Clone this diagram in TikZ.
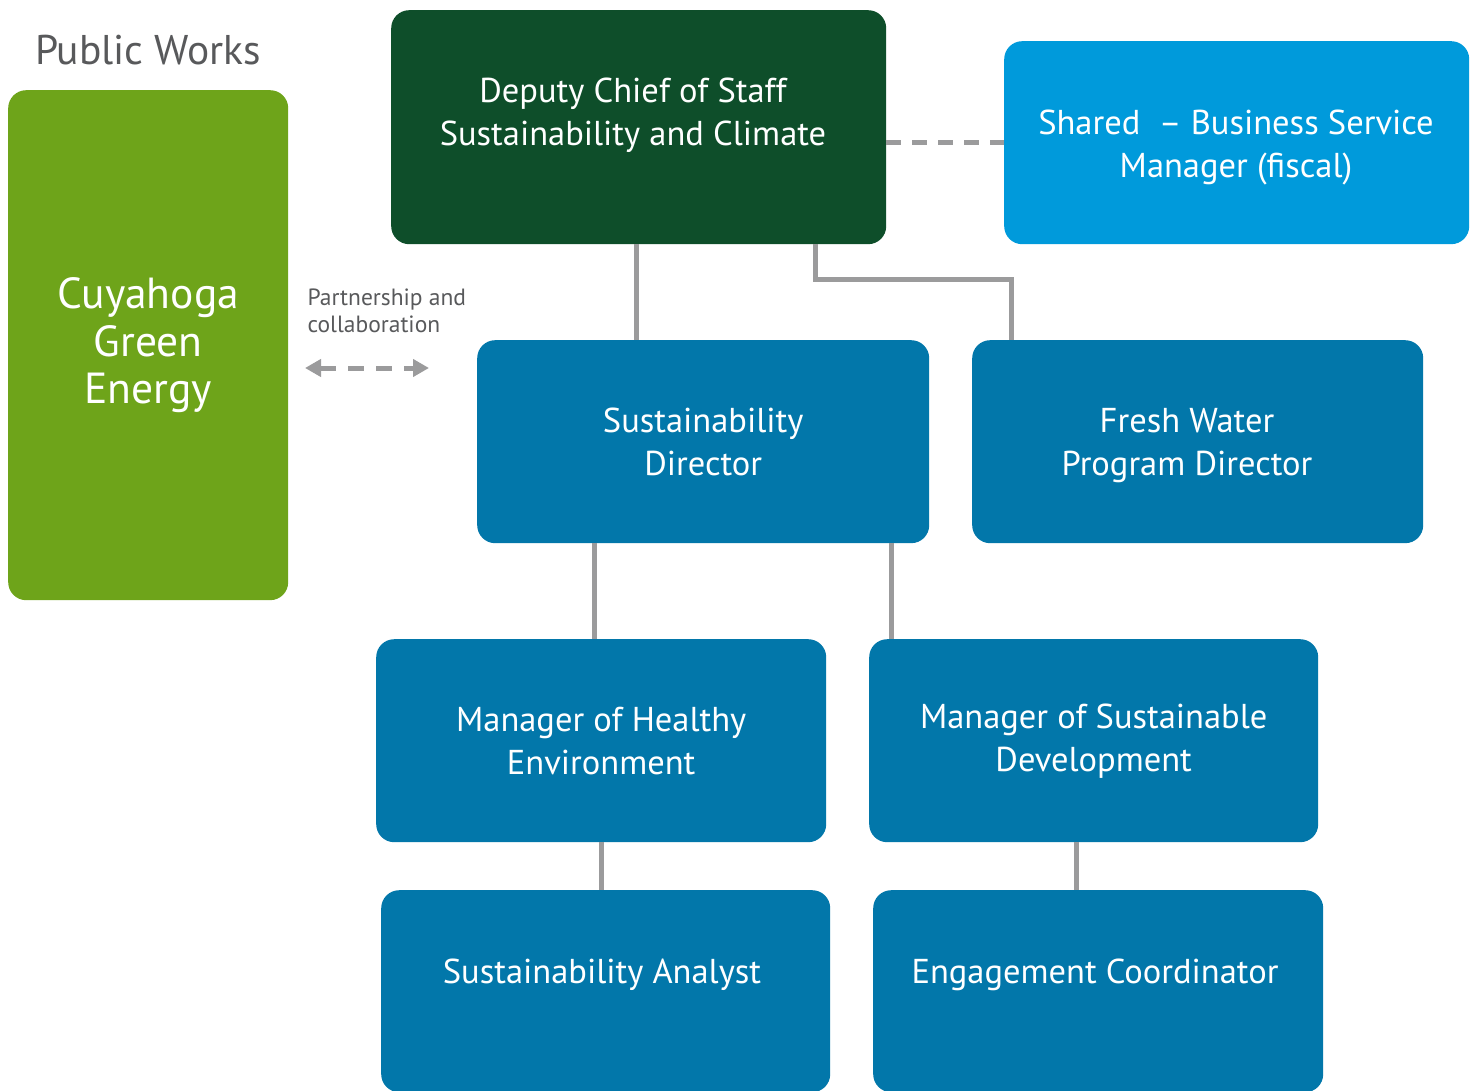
\documentclass[tikz,border=0pt]{standalone}
\usepackage{fontspec}
\setmainfont{PT Sans}
\usetikzlibrary{arrows.meta}
\usetikzlibrary{positioning}

\definecolor{pwgreen}{HTML}{6EA41A}
\definecolor{deepgreen}{HTML}{0E4E2A}
\definecolor{sharedblue}{HTML}{009ADB}
\definecolor{staffblue}{HTML}{0277AA}
\definecolor{linkgray}{HTML}{9B9B9C}
\definecolor{labelgray}{HTML}{58595B}

\begin{document}
\begin{tikzpicture}[x=1pt,y=-1pt,
  every node/.style={align=center},
  unit/.style={fill=staffblue,rounded corners=18pt,anchor=north west,
    minimum width=451pt,minimum height=203pt,text=white,
    font=\fontsize{34.5}{43}\selectfont},
  unittext/.style={text=white,font=\fontsize{34.5}{43}\selectfont},
  link/.style={draw=linkgray,line width=5pt},
  dotted link/.style={draw=linkgray,line width=5pt,dash pattern=on 15pt off 11pt}]

  \useasboundingbox (0,0) rectangle (1474,1091);

  % public works side
  \node[text=labelgray,font=\fontsize{41.5}{48}\selectfont] (pw) at (148,50) {Public Works};
  \node[unit,fill=pwgreen,minimum width=280pt,minimum height=510pt,
    font=\fontsize{43.5}{47.5}\selectfont] (cge) at (8,90) {Cuyahoga\\Green\\Energy};

  % top row
  \node[unit,fill=deepgreen,minimum width=495pt,minimum height=234pt] (deputy) at (391,10) {};
  \node[unittext] (deputytxt) at (633,115) {Deputy Chief of Staff\\Sustainability and Climate};
  \node[unit,fill=sharedblue,minimum width=465pt] (shared) at (1004,41) {};
  \node[unittext] (sharedtxt) at (1236,148) {Shared~~-- Business Service\\Manager (fiscal)};

  % directors
  \node[unit,minimum width=452pt] (sd) at (477,340) {Sustainability\\Director};
  \node[unit] (fresh) at (972,340) {};
  \node[unittext] (freshtxt) at (1187,446) {Fresh Water\\Program Director};

  % managers
  \node[unit,minimum width=450pt] (mh) at (376,639) {Manager of Healthy\\Environment};
  \node[unit,minimum width=449pt] (msd) at (869,639) {Manager of Sustainable\\Development};

  % staff
  \node[unit,minimum width=449pt,minimum height=202pt] (sa) at (381,890) {};
  \node[unittext] (satxt) at (602,975) {Sustainability Analyst};
  \node[unit,minimum width=450pt,minimum height=202pt] (ec) at (873,890) {};
  \node[unittext] (ectxt) at (1095,975) {Engagement Coordinator};

  % reporting lines
  \draw[link] ([xshift=245pt]deputy.south west) -- ([xshift=245pt]deputy.south west |- sd.north);
  \draw[link] ([xshift=424pt]deputy.south west) -- ++(0,35) -| ([xshift=39pt]fresh.north west);
  \draw[link] ([xshift=117pt]sd.south west) -- ([xshift=117pt]sd.south west |- mh.north);
  \draw[link] ([xshift=414pt]sd.south west) -- ([xshift=414pt]sd.south west |- msd.north);
  \draw[link] (mh.south) -- (mh.south |- sa.north);
  \draw[link] ([xshift=207pt]msd.south west) -- ([xshift=207pt]msd.south west |- ec.north);
  \draw[dotted link] (shared.west -| deputy.east) -- (shared.west);

  % partnership arrow
  \node[text=labelgray,anchor=north west,align=left,font=\fontsize{23.5}{27}\selectfont]
    (partner) at (304,285) {Partnership and\\collaboration};
  \coordinate (pl) at (305,368);
  \coordinate (pr) at (429,368);
  \draw[draw=linkgray,line width=5pt,dash pattern=on 16pt off 12pt,
    {Triangle[length=16pt,width=17pt,fill=linkgray]}-{Triangle[length=16pt,width=17pt,fill=linkgray]}] (pl) -- (pr);

\end{tikzpicture}
\end{document}
